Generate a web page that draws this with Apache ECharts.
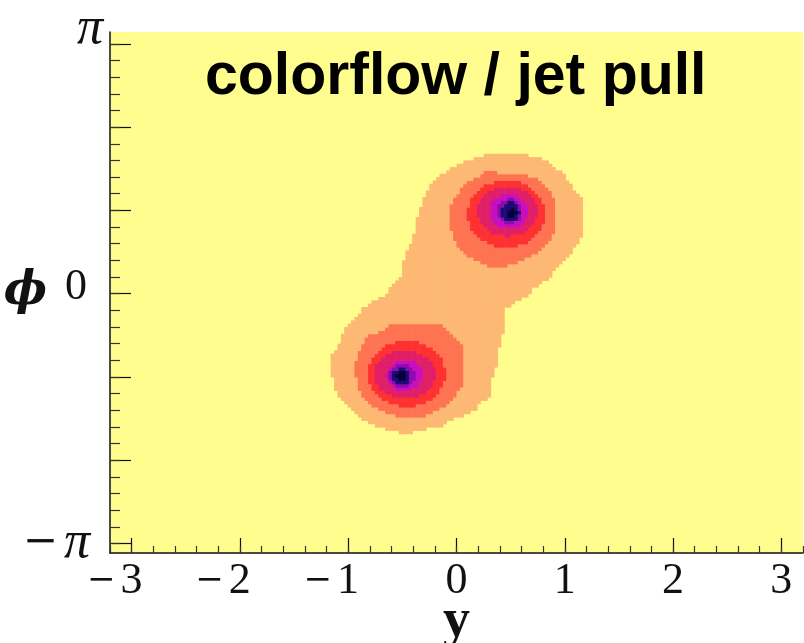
<!DOCTYPE html>
<html>
<head>
<meta charset="utf-8">
<script src="https://cdn.jsdelivr.net/npm/echarts@6/dist/echarts.min.js"></script>
<style>
  html, body { margin: 0; padding: 0; background: #fff; }
  #chart { width: 804px; height: 643px; }
</style>
</head>
<body>
<div id="chart"></div>
<script>
// axis ticks and labels
const xMajorTicks = [-3, -2, -1, 0, 1, 2, 3];
const xTickLabels = ['3', '2', '1', '0', '1', '2', '3'];
const yMajorTicks = [-Math.PI, -2 * Math.PI / 3, -Math.PI / 3, 0, Math.PI / 3, 2 * Math.PI / 3, Math.PI];
const yLabelTicks = [-Math.PI, 0, Math.PI];
const yTickLabels = ['\u03c0', '0', '\u03c0'];

// outer (light orange) region
const orangeX = [0.28, 0.64, 0.81, 0.90, 0.98, 1.07, 1.15, 1.15, 1.12, 1.07, 0.99, 0.92, 0.83, 0.70, 0.67, 0.55, 0.44, 0.44, 0.40, 0.37,
  0.32, 0.31, 0.21, 0.18, 0.06, -0.09, -0.15, -0.37, -0.44, -0.55, -0.72, -0.86, -0.95, -1.03, -1.12, -1.15, -1.15, -1.10, -1.06, -1.01,
  -0.93, -0.86, -0.77, -0.67, -0.60, -0.57, -0.51, -0.48, -0.41, -0.38, -0.35, -0.31, -0.26, -0.22, -0.15, -0.06, 0.03, 0.18];
const orangeY = [1.75, 1.75, 1.68, 1.58, 1.51, 1.33, 1.20, 0.74, 0.66, 0.53, 0.43, 0.32, 0.17, 0.07, -0.02, -0.10, -0.20, -0.41, -0.62, -0.87,
  -1.08, -1.29, -1.38, -1.46, -1.54, -1.59, -1.67, -1.71, -1.77, -1.73, -1.67, -1.59, -1.48, -1.38, -1.21, -1.04, -0.77, -0.67, -0.54, -0.41,
  -0.29, -0.18, -0.10, -0.02, 0.09, 0.15, 0.24, 0.49, 0.66, 0.82, 1.03, 1.18, 1.33, 1.43, 1.48, 1.56, 1.64, 1.71];

// salmon region round each jet
const salmonAX = [0.24, 0.61, 0.74, 0.81, 0.86, 0.90, 0.92, 0.92, 0.89, 0.83, 0.74, 0.61, 0.49, 0.37, 0.24, 0.12, 0.03, -0.02, -0.06, -0.06, -0.02, 0.05, 0.12, 0.23];
const salmonAY = [1.54, 1.51, 1.45, 1.38, 1.30, 1.20, 1.03, 0.86, 0.74, 0.61, 0.51, 0.43, 0.36, 0.32, 0.38, 0.47, 0.57, 0.70, 0.82, 1.07, 1.22, 1.33, 1.42, 1.49];
const salmonBX = [-0.52, -0.15, -0.09, -0.02, 0.03, 0.07, 0.07, 0.03, -0.03, -0.09, -0.22, -0.31, -0.55, -0.67, -0.78, -0.86, -0.92, -0.93, -0.93, -0.90, -0.86, -0.80, -0.70, -0.61];
const salmonBY = [-0.36, -0.36, -0.43, -0.52, -0.60, -0.71, -1.08, -1.21, -1.31, -1.42, -1.48, -1.54, -1.54, -1.48, -1.40, -1.29, -1.15, -1.00, -0.83, -0.71, -0.60, -0.52, -0.46, -0.39];

// inner rings (levels 3..8): red, crimson, magenta, purple, navy, core
const ringLevels = [3, 4, 5, 6, 7, 8];
const ringACx = [0.46, 0.47, 0.48, 0.49, 0.50, 0.51];
const ringACy = [1.01, 1.04, 1.04, 1.04, 1.03, 1.02];
const ringARx = [0.36, 0.28, 0.18, 0.12, 0.085, 0.042];
const ringARy = [0.42, 0.31, 0.22, 0.16, 0.125, 0.056];
const ringBCx = [-0.46, -0.48, -0.48, -0.50, -0.51, -0.505];
const ringBCy = [-1.00, -1.01, -1.02, -1.03, -1.04, -1.02];
const ringBRx = [0.36, 0.29, 0.165, 0.12, 0.085, 0.046];
const ringBRy = [0.415, 0.30, 0.20, 0.157, 0.105, 0.054];

const palette = ['#fffd8d', '#fdb974', '#fe7352', '#fe3132', '#e01f68', '#c80fc0', '#8a0cae', '#1e0878', '#03003a'];

const nxBins = 200, nyBins = 150;
const xBin = 2 * Math.PI / nxBins;
const yBin = 2 * Math.PI / nyBins;

function inPoly(px, py, xs, ys) {
  let inside = false;
  for (let i = 0, j = xs.length - 1; i < xs.length; j = i++) {
    if ((ys[i] > py) !== (ys[j] > py) &&
        px < (xs[j] - xs[i]) * (py - ys[i]) / (ys[j] - ys[i]) + xs[i]) inside = !inside;
  }
  return inside;
}

function inRing(px, py, cx, cy, rx, ry) {
  const dx = (px - cx) / rx, dy = (py - cy) / ry;
  return dx * dx + dy * dy <= 1;
}

function levelAt(x, y) {
  let lv = 0;
  if (inPoly(x, y, orangeX, orangeY)) lv = 1;
  if (inPoly(x, y, salmonAX, salmonAY) || inPoly(x, y, salmonBX, salmonBY)) lv = 2;
  ringLevels.forEach((L, k) => {
    if (inRing(x, y, ringACx[k], ringACy[k], ringARx[k], ringARy[k]) ||
        inRing(x, y, ringBCx[k], ringBCy[k], ringBRx[k], ringBRy[k])) lv = Math.max(lv, L);
  });
  return lv;
}

const cells = [];
for (let i = 0; i < nxBins; i++) {
  const x0 = -Math.PI + i * xBin;
  for (let j = 0; j < nyBins; j++) {
    const y0 = -Math.PI + j * yBin;
    const lv = levelAt(x0 + xBin / 2, y0 + yBin / 2);
    if (lv > 0) cells.push([x0, y0, lv]);
  }
}

// minor tick positions on phi axis
const yMinorTicks = [];
for (let k = -15; k <= 15; k++) yMinorTicks.push(k * Math.PI / 15);

function renderCell(params, api) {
  const x0 = api.value(0), y0 = api.value(1);
  const p0 = api.coord([x0, y0 + yBin]);
  const p1 = api.coord([x0 + xBin, y0]);
  return {
    type: 'rect',
    shape: { x: p0[0], y: p0[1], width: p1[0] - p0[0] + 0.6, height: p1[1] - p0[1] + 0.6 },
    style: { fill: palette[api.value(2)] }
  };
}

function pick(v, ticks, labels) {
  for (let i = 0; i < ticks.length; i++) if (Math.abs(v - ticks[i]) < 1e-6) return labels[i];
  return '';
}

const serif = 'Liberation Serif';
const chart = echarts.init(document.getElementById('chart'));
chart.setOption({
  animation: false,
  backgroundColor: '#fff',
  title: {
    text: 'colorflow / jet pull',
    left: 205, top: 48, padding: 0,
    textStyle: { fontFamily: 'Liberation Sans', fontWeight: 'bold', fontSize: 59, color: '#000' }
  },
  grid: {
    left: 110, right: 1, top: 32, bottom: 90, show: true, backgroundColor: '#fffd8d', borderWidth: 0,
    containLabel: false, outerBoundsMode: 'none'
  },
  xAxis: [
    {
      type: 'value', min: -3.2, max: 3.2, position: 'bottom',
      axisLine: { show: true, onZero: false, lineStyle: { color: '#111', width: 1.5 } },
      axisTick: { show: true, inside: true, length: 15, customValues: xMajorTicks, lineStyle: { color: '#111', width: 1.2 } },
      axisLabel: {
        customValues: xMajorTicks, margin: 6,
        formatter: v => {
          const t = pick(v, xMajorTicks, xTickLabels);
          return v < 0 ? '{minus|\u2212}{neg|' + t + '}' : '{pos|' + t + '}';
        },
        rich: {
          minus: { fontFamily: 'DejaVu Serif', fontSize: 34, color: '#111', padding: [0, 5, 0, 0] },
          neg: { fontFamily: serif, fontSize: 44, color: '#111', padding: [0, 34, 0, 0] },
          pos: { fontFamily: serif, fontSize: 44, color: '#111' }
        }
      },
      splitLine: { show: false },
      name: 'y', nameLocation: 'middle', nameGap: 42, nameMoveOverlap: false,
      nameTextStyle: { fontFamily: serif, fontWeight: 'bold', fontSize: 54, color: '#111' }
    },
    {
      type: 'value', min: -3.2, max: 3.2, interval: 0.2, position: 'bottom',
      axisLine: { show: false, onZero: false },
      axisTick: { show: true, inside: true, length: 7, lineStyle: { color: '#333', width: 1.2 } },
      axisLabel: { show: false },
      splitLine: { show: false }
    }
  ],
  yAxis: [
    {
      type: 'value', min: -3.26, max: 3.29, position: 'left',
      axisLine: { show: true, onZero: false, lineStyle: { color: '#111', width: 1.5 } },
      axisTick: { show: true, inside: true, length: 21, customValues: yMajorTicks, lineStyle: { color: '#111', width: 1.2 } },
      axisLabel: {
        customValues: yLabelTicks, margin: 7,
        formatter: v => {
          const t = pick(v, yLabelTicks, yTickLabels);
          if (v > 1) return '{top|' + t + '}';
          if (v < -1) return '{minus|\u2212}{bot|' + t + '}';
          return '{mid|' + t + '}';
        },
        rich: {
          top: { fontFamily: serif, fontStyle: 'italic', fontSize: 52, color: '#111', padding: [0, 0, 28, 0] },
          mid: { fontFamily: serif, fontSize: 44, color: '#111', padding: [0, 16, 12, 0] },
          minus: { fontFamily: 'DejaVu Serif', fontSize: 42, color: '#111', padding: [0, 6, 0, 0] },
          bot: { fontFamily: serif, fontStyle: 'italic', fontSize: 52, color: '#111', padding: [0, 13, 0, 0] }
        }
      },
      splitLine: { show: false },
      name: '\u03d5', nameLocation: 'middle', nameRotate: 0, nameGap: 63, nameMoveOverlap: false,
      nameTextStyle: { fontFamily: 'DejaVu Serif', fontWeight: 'bold', fontStyle: 'italic', fontSize: 46, color: '#111', padding: [0, 0, 10, 0] }
    },
    {
      type: 'value', min: -3.26, max: 3.29, position: 'left',
      axisLine: { show: false, onZero: false },
      axisTick: { show: true, inside: true, length: 10, customValues: yMinorTicks, lineStyle: { color: '#333', width: 1.2 } },
      axisLabel: { show: false },
      splitLine: { show: false }
    }
  ],
  series: [{
    type: 'custom',
    xAxisIndex: 0, yAxisIndex: 0,
    renderItem: renderCell,
    encode: { x: 0, y: 1 },
    data: cells,
    silent: true
  }]
});
</script>
</body>
</html>
